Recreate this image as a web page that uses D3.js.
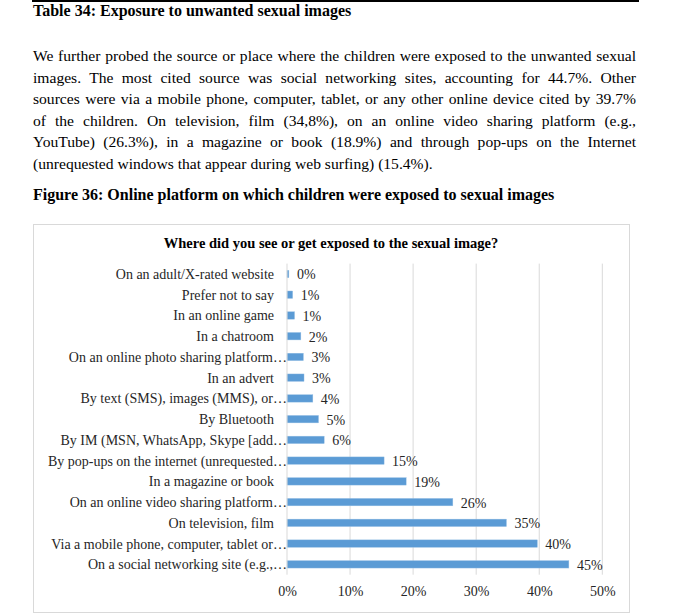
<!DOCTYPE html>
<html>
<head>
<meta charset="utf-8">
<script src="https://cdn.jsdelivr.net/npm/d3@7"></script>
<style>
  html, body { margin: 0; padding: 0; background: #fff; }
  body { width: 674px; height: 615px; position: relative; overflow: hidden;
         font-family: "Liberation Serif", "Times New Roman", serif; color: #000; }
  #rule { position: absolute; left: 32px; top: 0; width: 607px; height: 1.5px; background: #000; }
  #head { position: absolute; left: 33px; top: 2px; font-weight: bold; font-size: 16px; }
  #para { position: absolute; left: 33px; top: 45px; width: 603px; font-size: 15.6px; line-height: 21.6px; }
  #para div { text-align: justify; text-align-last: justify; white-space: nowrap; }
  #para div.last { text-align-last: left; }
  #fig { position: absolute; left: 33px; top: 186px; font-weight: bold; font-size: 16px; }
  svg { position: absolute; left: 0; top: 0; }
</style>
</head>
<body>
<div id="rule"></div>
<div id="head">Table 34: Exposure to unwanted sexual images</div>
<div id="para"></div>
<div id="fig">Figure 36: Online platform on which children were exposed to sexual images</div>
<svg id="chart" width="674" height="615"></svg>
<script>
// ---- text of the page ------------------------------------------
const paraLines = [
  "We further probed the source or place where the children were exposed to the unwanted sexual",
  "images. The most cited source was social networking sites, accounting for 44.7%. Other",
  "sources were via a mobile phone, computer, tablet, or any other online device cited by 39.7%",
  "of the children. On television, film (34,8%), on an online video sharing platform (e.g.,",
  "YouTube) (26.3%), in a magazine or book (18.9%) and through pop-ups on the Internet",
  "(unrequested windows that appear during web surfing) (15.4%)."
];

// ---- chart data (top to bottom) -------------------------------
const categories = [
  "On an adult/X-rated website",
  "Prefer not to say",
  "In an online game",
  "In a chatroom",
  "On an online photo sharing platform…",
  "In an advert",
  "By text (SMS), images (MMS), or…",
  "By Bluetooth",
  "By IM (MSN, WhatsApp, Skype [add…",
  "By pop-ups on the internet (unrequested…",
  "In a magazine or book",
  "On an online video sharing platform…",
  "On television, film",
  "Via a mobile phone, computer, tablet or…",
  "On a social networking site (e.g.,…"
];
const values = [0.003, 0.009, 0.012, 0.022, 0.026, 0.027, 0.041, 0.050, 0.059,
                0.154, 0.189, 0.263, 0.348, 0.397, 0.447];
const xTicks = [0, 0.1, 0.2, 0.3, 0.4, 0.5];
const chartTitle = "Where did you see or get exposed to the sexual image?";

d3.select("#para").selectAll("div")
  .data(paraLines)
  .enter().append("div")
  .classed("last", (d, i) => i === paraLines.length - 1)
  .text(d => d);

// ---- chart ------------------------------------------------------
const svg = d3.select("#chart");
const font = "'Liberation Serif', 'Times New Roman', serif";

svg.append("rect")
  .attr("x", 33.5).attr("y", 224.5)
  .attr("width", 596).attr("height", 388)
  .attr("fill", "#fff").attr("stroke", "#d9d9d9");

svg.append("text")
  .attr("x", 331).attr("y", 248)
  .attr("text-anchor", "middle")
  .attr("font-family", font).attr("font-size", 14.5).attr("font-weight", "bold")
  .text(chartTitle);

const plotTop = 263.6, plotBottom = 574.7;
const x = d3.scaleLinear().domain([0, 0.5]).range([287, 602.3]);
const y = d3.scaleBand().domain(categories).range([plotTop, plotBottom]).paddingInner(0.64).paddingOuter(0.32);

// gridlines
svg.append("g").selectAll("line")
  .data(xTicks.slice(1))
  .enter().append("line")
  .attr("x1", d => x(d)).attr("x2", d => x(d))
  .attr("y1", plotTop).attr("y2", plotBottom)
  .attr("stroke", "#d9d9d9").attr("stroke-width", 1);

// bars
svg.append("g").selectAll("rect")
  .data(values)
  .enter().append("rect")
  .attr("x", x(0))
  .attr("y", (d, i) => y(categories[i]))
  .attr("width", d => x(d) - x(0))
  .attr("height", y.bandwidth())
  .attr("fill", "#5b9bd5")
  .attr("stroke", "#9dc3e6").attr("stroke-width", 0.4);

// vertical axis line
svg.append("line")
  .attr("x1", x(0)).attr("x2", x(0))
  .attr("y1", plotTop).attr("y2", plotBottom)
  .attr("stroke", "#d9d9d9");

// value labels
const pct = d3.format(".0%");
svg.append("g").selectAll("text")
  .data(values)
  .enter().append("text")
  .attr("x", d => x(d) + 8)
  .attr("y", (d, i) => y(categories[i]) + y.bandwidth() / 2 + 5.5)
  .attr("font-family", font).attr("font-size", 14).attr("fill", "#262626")
  .text(d => pct(d));

// category labels
svg.append("g").selectAll("text")
  .data(categories)
  .enter().append("text")
  .attr("x", d => d.endsWith("…") ? 287 : 274)
  .attr("y", d => y(d) + y.bandwidth() / 2 + 5)
  .attr("text-anchor", "end")
  .attr("font-family", font).attr("font-size", 14).attr("fill", "#262626")
  .text(d => d);

// x axis tick labels
const xAxis = d3.axisBottom(x).tickValues(xTicks).tickFormat(pct).tickSize(0).tickPadding(10);
const gx = svg.append("g").attr("transform", `translate(0,${plotBottom + 1})`).call(xAxis);
gx.select(".domain").remove();
gx.selectAll("text")
  .attr("font-family", font).attr("font-size", 14).attr("fill", "#262626");
</script>
</body>
</html>
